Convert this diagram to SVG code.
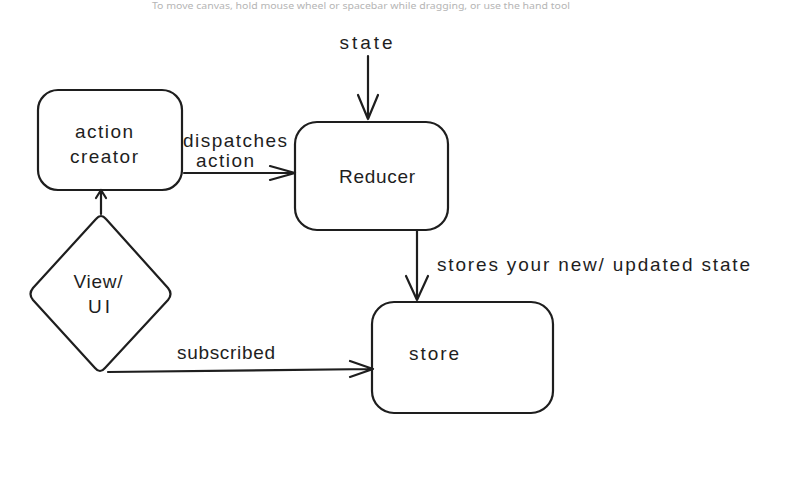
<svg xmlns="http://www.w3.org/2000/svg" width="797" height="489" viewBox="0 0 797 489">
<style>
.n{fill:#fff;stroke:#1e1e1e;stroke-width:2.2;stroke-linejoin:round}
.c{fill:none;stroke:#1e1e1e;stroke-width:2.2;stroke-linecap:round;stroke-linejoin:round}
.t{font-family:"Liberation Sans","DejaVu Sans",sans-serif;font-size:19px;fill:#1e1e1e}
.hint{font-family:"Noto Sans","Liberation Sans",sans-serif;font-size:9px;fill:#b5b5b5}
</style>
<rect width="797" height="489" fill="#fff"/>
<text class="hint" x="361" y="9" text-anchor="middle" textLength="418" lengthAdjust="spacingAndGlyphs">To move canvas, hold mouse wheel or spacebar while dragging, or use the hand tool</text>
<g id="action-creator">
<rect class="n" x="38" y="90" width="144" height="100" rx="20"/>
<text class="t" x="104" y="138" text-anchor="middle" textLength="58">action</text>
<text class="t" x="104" y="163" text-anchor="middle" textLength="68">creator</text>
</g>
<g id="reducer">
<rect class="n" x="295" y="122" width="153" height="108" rx="22"/>
<text class="t" x="377" y="183" text-anchor="middle" textLength="76">Reducer</text>
</g>
<g id="view-ui">
<path class="n" d="M96,219 Q101,213 106,219 L168,288 Q173,294 168,300 L105,368 Q100,374 95,368 L33,300 Q28,294 33,288 Z"/>
<text class="t" x="98" y="288" text-anchor="middle" textLength="49">View/</text>
<text class="t" x="99" y="313" text-anchor="middle" textLength="22">UI</text>
</g>
<g id="store">
<rect class="n" x="372" y="302" width="181" height="111" rx="22"/>
<text class="t" x="434" y="360" text-anchor="middle" textLength="50">store</text>
</g>
<g id="state-label">
<text class="t" x="366" y="49" text-anchor="middle" textLength="53">state</text>
</g>
<g id="connectors">
<path class="c" d="M368,56 L368,119 M358,95 L368,119 L378,95"/>
<path class="c" d="M184,173 L295,173 M270,166 L295,173 L270,180"/>
<path class="c" d="M101,214 L101,190 M96,198 L101,190 L106,198"/>
<path class="c" d="M108,372 L373,369 M350,361 L373,369 L350,377"/>
<path class="c" d="M417,230 L417,300 M406,276 L417,300 L428,276"/>
<text class="t" x="235" y="147" text-anchor="middle" textLength="104">dispatches</text>
<text class="t" x="225" y="167" text-anchor="middle" textLength="58">action</text>
<text class="t" x="226" y="359" text-anchor="middle" textLength="98">subscribed</text>
<text class="t" x="437" y="271" textLength="313">stores your new/ updated state</text>
</g>
</svg>
